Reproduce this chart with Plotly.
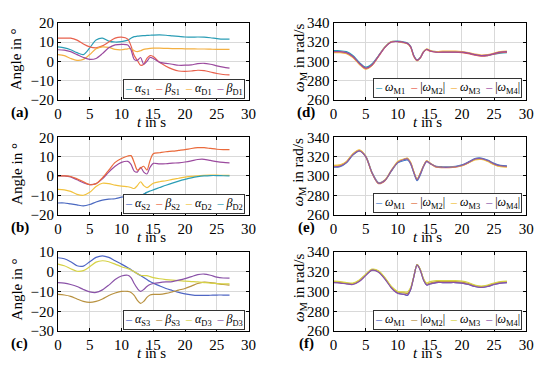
import plotly.graph_objects as go

OFF = 8  # default page body margin of the written html
W, H = 550 - 2 * OFF, 370 - 2 * OFF
FONT = "Liberation Serif, Times New Roman, serif"

T = [0, 1, 2, 3, 4, 5, 6, 7, 8, 9, 10, 11, 11.5, 12, 12.5, 13, 13.5, 14, 14.5, 15,
     16, 17, 18, 19, 20, 21, 22, 23, 24, 25, 26, 27]

# ---- panel (a): angles, leg 1
a_alpha_S1 = [7.5, 7, 6, 4.5, 3.5, 7, 11, 12, 10.5, 10, 10.2, 11, 12, 12.8, 13, 13.2, 13.3, 13.4, 13.5, 13.6,
              13.7, 13.5, 13.2, 12.9, 12.6, 12.5, 12.6, 12.5, 12.2, 11.8, 11.5, 11.5]
a_beta_S1 = [12, 12, 12, 11, 9, 7.5, 7, 8, 10, 12, 12.5, 11.5, 8, 3, 0.5, -2, -1.5, 1.5, 3, 2.5,
             -0.5, -2.5, -4, -5, -5.2, -5, -4.6, -4.8, -5.5, -6.3, -6.8, -7]
a_alpha_D1 = [3.5, 3, 1.5, 0.5, 1, 3.5, 6.5, 7.5, 7.2, 6.2, 6, 6.5, 6.5, 5.5, 5, 5.5, 6.2, 6.5, 6.7, 6.8,
              6.8, 6.7, 6.6, 6.6, 6.5, 6.5, 6.4, 6.4, 6.3, 6.2, 6.2, 6.2]
a_beta_D1 = [6, 5.8, 5, 3.5, 2, 1, 1.5, 4, 7, 8.5, 8.8, 8.5, 6, 1, 0.5, 2, -1.5, 0, 2, 1.5,
             -0.5, -1, -1.5, -2, -2, -1.8, -1.2, -1, -1.5, -2.3, -3, -3.5]

# ---- panel (b): angles, leg 2
b_alpha_S2 = [-14, -14, -14.5, -15, -15.5, -14.8, -13.5, -12.5, -12, -11.8, -11, -10.5, -10.3, -10, -10, -10.2, -9.5, -8.5,
              None, None, None, None, None, None, None, None, None, None, None, None, None, None]
b_beta_S2 = [0, 0, -0.3, -1.5, -3, -4.5, -4, -1, 3, 7, 9, 10.3, 10.5, 7, 3, 4, 5, 3, 8, 11.5,
             12, 12.5, 12.8, 13.2, 13.6, 14.2, 14.6, 14.6, 14.2, 13.8, 13.6, 13.6]
b_alpha_D2 = [-7, -7.2, -8, -9.5, -10, -8.5, -5.5, -3.8, -4, -4.8, -5.3, -5.6, -6, -6.5, -5, -3, -5, -6, -5, -3.8,
              -3, -2.5, -1.8, -1.2, -0.6, -0.2, 0, 0.3, 0.4, 0.4, 0.3, 0.3]
b_beta_D2 = [None, None, None, None, None, None, None, None, None, None, None, None, None, None, None, -10.2, -9.5, -8.5, -7.8, -7.2,
             -6, -4.8, -3.7, -2.7, -1.8, -1, -0.4, 0, 0.2, 0.2, 0.1, 0]
b_extra = [0, 0, -0.5, -2, -3.5, -4.5, -4, -1.5, 2, 5, 7, 7.5, 6, 2.5, 2, 4.5, 2, 1, 4.5, 6.5,
           6.2, 6.3, 6.6, 6.8, 7.2, 7.8, 8.5, 8.6, 8, 7.4, 7, 6.8]

# ---- panel (c): angles, leg 3
c_alpha_S3 = [7, 6.5, 5, 3, 2.8, 5, 7.2, 8, 7.2, 5.5, 3.8, 2, 1, 0, -1, -2, -3, -4, -5, -5.8,
              -7.2, -8.5, -9.5, -10.5, -11.2, -11.7, -12, -12, -11.9, -11.8, -11.8, -11.8]
c_beta_S3 = [-11.5, -11.8, -12.5, -13.8, -15, -15.5, -15, -13.8, -12, -10.8, -10, -10, -10.5, -12, -14.5, -16, -15, -13, -11.8, -11.5,
             -11.5, -11, -10.2, -9.3, -8.5, -7.3, -6, -5.3, -5.5, -6, -6.5, -6.8]
c_alpha_D3 = [3.8, 3, 1.5, 0.2, 0.5, 2.5, 4.8, 5.5, 5, 3.8, 2.5, 1.5, 0.8, 0, -1, -1.8, -2, -2, -2.5, -3,
              -3.6, -4, -4.3, -4.5, -4.8, -5, -5.2, -5.5, -5.8, -6, -6.2, -6.2]
c_beta_D3 = [-5.5, -5.8, -6.5, -7.5, -9, -10.2, -10.5, -9.2, -6.8, -4, -2.2, -1.8, -3, -6, -8.5, -10, -9, -7.5, -6.5, -6,
             -5.5, -5.2, -5, -4.3, -3.5, -2.5, -1.5, -1.2, -1.8, -2.8, -3.2, -3.3]

# ---- panel (d): motor speeds, leg 1
d_M1 = [311, 311, 310, 306, 299, 294, 297.5, 306, 315, 320.5, 321, 320, 319, 315.5, 306, 301.5, 304, 310, 312.5, 311,
        310, 310, 310, 310, 309.5, 308.5, 307, 306, 306, 307.5, 308.5, 309]
d_M2 = [309.5, 309.5, 308.5, 304.5, 297.5, 292.5, 296, 305, 314.5, 320, 320.5, 319.5, 318.5, 315, 305, 301, 303.5, 309.5, 312, 310.5,
        309.5, 309.5, 309.5, 309.5, 309, 308, 306.5, 305.5, 306, 307.5, 309, 309.5]
d_M3 = [309, 309, 308, 304, 297, 292, 296, 305.5, 315, 320.5, 320.5, 319, 318, 314.5, 305, 300.5, 303.5, 310, 313, 311.5,
        310, 310.5, 310.5, 310.5, 310, 309, 307.5, 306.5, 307, 308.5, 310, 310.5]
d_M4 = [310, 310, 309, 305, 298, 293, 296.5, 305.5, 314.5, 320, 320.5, 319.5, 318.5, 315, 305.5, 301, 303.5, 309.5, 312.5, 311,
        309.5, 309.5, 309.5, 309.5, 309.5, 308.5, 307, 306, 306.5, 308, 309.5, 310]

# ---- panel (e): motor speeds, leg 2
e_M1 = [309, 309.5, 313.5, 321.5, 326, 320.5, 303.5, 293, 295.5, 305, 313.5, 316, 316.5, 312.5, 303, 295, 301, 309.5, 315, 313,
        310, 309.5, 309.5, 310, 311.5, 314.5, 318, 318.5, 316.5, 313, 311, 310.5]
e_M2 = [310.5, 311, 314.5, 322.5, 326.5, 320, 302.5, 292, 295, 305.5, 314.5, 317.5, 318, 313.5, 304, 296.5, 302.5, 310, 315.5, 313,
        309, 308.5, 308.5, 309, 310.5, 313.5, 317, 317.5, 315.5, 312, 310, 309.5]
e_M3 = [311, 311.5, 315, 323, 327, 320.5, 303, 292.5, 296, 306, 315, 317.5, 318.5, 314, 304.5, 297, 303, 310.5, 315.5, 313.5,
        309.5, 309, 309, 309.5, 310.5, 313.5, 316.5, 317, 315, 311.5, 309.5, 309]
e_M4 = [309.5, 310, 314, 322, 326, 320, 303, 292.5, 295.5, 305.5, 314, 317, 317.5, 313, 303.5, 296, 302, 310, 315, 313,
        309.5, 309, 309, 309.5, 311, 314, 317.5, 318, 316, 312.5, 310.5, 310]

# ---- panel (f): motor speeds, leg 3
f_M1 = [309.5, 309, 308, 307.5, 310.5, 316.5, 321.5, 320, 313, 304, 298.5, 297, 296, 302, 315, 327, 322, 312, 306.5, 307.5,
        309, 309, 309, 309, 308.5, 307, 305, 304, 305, 307, 308.5, 309]
f_M2 = [310, 309.5, 308.5, 308, 311, 317, 322, 320.5, 313.5, 304.5, 299.5, 298.5, 298, 303, 315, 327, 322, 312.5, 307.5, 308.5,
        310, 310, 310, 310, 309.5, 308, 306, 305, 306, 308, 309.5, 310]
f_M3 = [310.5, 310, 309, 308.5, 311.5, 317.5, 322.5, 321, 314, 305, 300, 299.5, 299.5, 304, 315.5, 327, 322.5, 313, 308.5, 310,
        311, 311, 311, 311, 310.5, 309, 306.5, 305.5, 306.5, 308.5, 310, 310.5]
f_M4 = [309, 308.5, 307.5, 307, 310, 316, 321.5, 319.5, 312.5, 303.5, 298, 297, 296.5, 302, 315, 326.5, 321.5, 311.5, 306.5, 307.5,
        309, 309, 309, 309, 308.5, 307, 305, 304, 305, 307, 308.5, 309]

# names
names_a = ["<i>α</i><sub>S1</sub>", "<i>β</i><sub>S1</sub>", "<i>α</i><sub>D1</sub>", "<i>β</i><sub>D1</sub>"]
names_b = ["<i>α</i><sub>S2</sub>", "<i>β</i><sub>S2</sub>", "<i>α</i><sub>D2</sub>", "<i>β</i><sub>D2</sub>"]
names_c = ["<i>α</i><sub>S3</sub>", "<i>β</i><sub>S3</sub>", "<i>α</i><sub>D3</sub>", "<i>β</i><sub>D3</sub>"]
names_w = ["<i>ω</i><sub>M1</sub>", "|<i>ω</i><sub>M2</sub>|", "<i>ω</i><sub>M3</sub>", "|<i>ω</i><sub>M4</sub>|"]

col1 = ["#2a9db5", "#e8604c", "#f4b042", "#9b4a9e"]
col2 = ["#4a68c0", "#ea6a3b", "#f2c23e", "#2a9db5"]
col2_extra = "#9b4a9e"
col3 = ["#4f66c4", "#b8913f", "#d6d246", "#8a52a8"]
col_e = ["#3d7cc9", "#e0703c", "#f0c040", "#8a5aa8"]

fig = go.Figure()


def add(series, names, colors, ax):
    for s, n, c in zip(series, names, colors):
        fig.add_trace(go.Scatter(x=T, y=s, name=n, mode="lines",
                                 line=dict(color=c, width=1.2, shape="spline", smoothing=0.8),
                                 xaxis="x" + ax, yaxis="y" + ax, showlegend=False, connectgaps=False))


add([a_alpha_S1, a_beta_S1, a_alpha_D1, a_beta_D1], names_a, col1, "")
add([d_M1, d_M2, d_M3, d_M4], names_w, col1, "2")
add([b_extra], ["extra"], [col2_extra], "3")
add([b_alpha_S2, b_beta_S2, b_alpha_D2, b_beta_D2], names_b, col2, "3")
add([e_M1, e_M2, e_M3, e_M4], names_w, col_e, "4")
add([c_alpha_S3, c_beta_S3, c_alpha_D3, c_beta_D3], names_c, col3, "5")
add([f_M1, f_M2, f_M3, f_M4], names_w, col3, "6")


def px(x):
    return (x - OFF) / W


def py(y):
    return 1 - (y - OFF) / H


LX = [55, 250]
RX = [337, 534]
ROWS = [[15, 96], [135, 216], [255, 338]]

axis_common = dict(showline=True, linecolor="black", linewidth=1, mirror="ticks", ticks="inside", ticklen=3,
                   tickcolor="black", showgrid=True, gridcolor="#d9d9d9", gridwidth=0.8, zeroline=False,
                   tickfont=dict(family=FONT, size=15, color="black"))

layout = {}
panels = [("", LX, 0, [-20, 20]), ("2", RX, 0, [260, 340]),
          ("3", LX, 1, [-20, 20]), ("4", RX, 1, [260, 340]),
          ("5", LX, 2, [-30, 10]), ("6", RX, 2, [260, 340])]
for ax, xs, r, yr in panels:
    top, bot = ROWS[r]
    layout["xaxis" + ax] = dict(axis_common, domain=[px(xs[0]), px(xs[1])], range=[0, 30], dtick=5,
                                anchor="y" + ax, fixedrange=True)
    layout["yaxis" + ax] = dict(axis_common, domain=[py(bot), py(top)], range=yr, dtick=10 if yr[1] < 100 else 20,
                                anchor="x" + ax, fixedrange=True)

fig.update_layout(**layout)

ann = []
labels = ["(a)", "(d)", "(b)", "(e)", "(c)", "(f)"]
label_x = [16, 309, 16, 309, 16, 309]
for i, (ax, xs, r, yr) in enumerate(panels):
    top, bot = ROWS[r]
    mid = (top + bot) / 2
    ann.append(dict(x=px(label_x[i]), y=py(bot + 13), xref="paper", yref="paper", text="<b>" + labels[i] + "</b>",
                    showarrow=False, font=dict(family=FONT, size=15, color="black"), xanchor="center", yanchor="middle"))
    ann.append(dict(x=px((xs[0] + xs[1]) / 2 - 2), y=py(bot + 23), xref="paper", yref="paper", text="<i>t</i> in s",
                    showarrow=False, font=dict(family=FONT, size=15, color="black"), xanchor="center", yanchor="middle"))
    if xs is LX:
        ann.append(dict(x=px(13), y=py(mid - 2), xref="paper", yref="paper", text="Angle in °", textangle=-90,
                        showarrow=False, font=dict(family=FONT, size=15, color="black"), xanchor="center", yanchor="middle"))
    else:
        ann.append(dict(x=px(302), y=py(mid - 4), xref="paper", yref="paper", text="<i>ω</i><sub>M</sub> in rad/s",
                        textangle=-90, showarrow=False, font=dict(family=FONT, size=15, color="black"),
                        xanchor="center", yanchor="middle"))

legend_specs = [(names_a, col1, 184, 84.5), (names_w, col1, 454, 83.5),
                (names_b, col2, 184, 204.5), (names_w, col_e, 454, 204),
                (names_c, col3, 184, 326.5), (names_w, col3, 454, 326.5)]
for nms, cols, cx, cy in legend_specs:
    txt = "  ".join(f'<span style="color:{c}">–</span> {n}' for n, c in zip(nms, cols))
    ann.append(dict(x=px(cx), y=py(cy), xref="paper", yref="paper", text=txt, showarrow=False,
                    font=dict(family=FONT, size=12, color="black"), xanchor="center", yanchor="middle",
                    bordercolor="#333333", borderwidth=1, borderpad=1, bgcolor="white"))

fig.update_layout(width=W, height=H, margin=dict(l=0, r=0, t=0, b=0), paper_bgcolor="white", plot_bgcolor="white",
                  annotations=ann, showlegend=False, font=dict(family=FONT, color="black"))

fig.write_html("out.html")
